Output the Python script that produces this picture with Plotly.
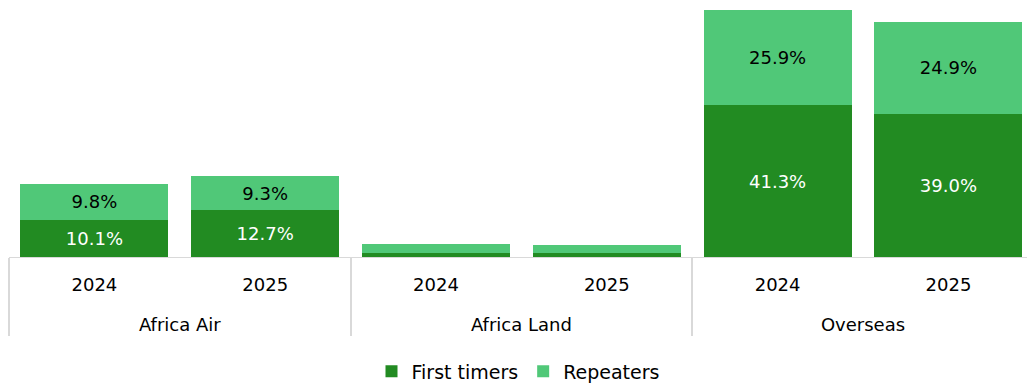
import plotly.graph_objects as go

# Share of travellers by market and year (percent)
groups = ["Africa Air", "Africa Air", "Africa Land", "Africa Land", "Overseas", "Overseas"]
years = ["2024", "2025", "2024", "2025", "2024", "2025"]
first_timers = [10.1, 12.7, 1.1, 1.1, 41.3, 39.0]
repeaters = [9.8, 9.3, 2.4, 2.3, 25.9, 24.9]

dark_green = "#228B22"
light_green = "#50C878"
font_family = "DejaVu Sans"

# Year labels get a trailing empty line so the market row sits lower
year_labels = [y + "<br><span style='font-size:40px'> </span>" for y in years]

fig = go.Figure()
fig.add_trace(go.Bar(
    name="First timers", x=[groups, year_labels], y=first_timers,
    marker=dict(color=dark_green, line=dict(width=0)),
    texttemplate="%{y:.1f}%", textposition="inside", insidetextanchor="middle",
    textfont=dict(color="white", size=18, family=font_family),
))
fig.add_trace(go.Bar(
    name="Repeaters", x=[groups, year_labels], y=repeaters,
    marker=dict(color=light_green, line=dict(width=0)),
    texttemplate="%{y:.1f}%", textposition="inside", insidetextanchor="middle",
    textfont=dict(color="black", size=18, family=font_family),
))

fig.update_layout(
    barmode="stack",
    bargap=0.134,
    width=1027, height=383,
    margin=dict(l=9, r=0, t=10, b=126),
    paper_bgcolor="white", plot_bgcolor="white",
    font=dict(family=font_family, size=17, color="black"),
    uniformtext=dict(minsize=14, mode="hide"),
    showlegend=True,
    legend=dict(orientation="h", yref="container", y=0.03, yanchor="middle",
                x=0.5, xanchor="center", font=dict(size=19), itemwidth=30,
                traceorder="normal"),
)
fig.update_xaxes(
    type="multicategory", range=[-0.5, 5.46],
    showline=True, linecolor="#d9d9d9", linewidth=1,
    showdividers=True, dividercolor="#d9d9d9", dividerwidth=2,
    ticks="", ticklabelstandoff=11, tickfont=dict(size=18, family=font_family),
    showgrid=False,
)
fig.update_yaxes(range=[0, 67.2], visible=False, showgrid=False)

fig.write_html("out.html")
